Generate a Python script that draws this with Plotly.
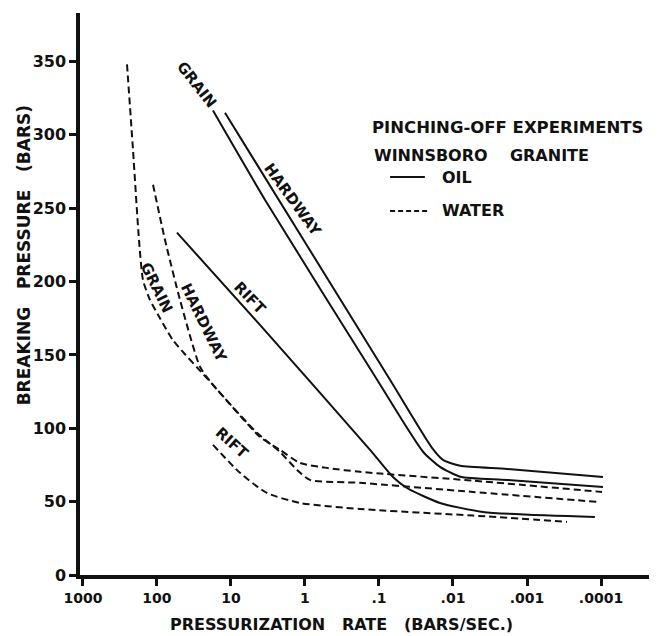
import plotly.graph_objects as go

# ---- data ----
# OIL (solid)
oil_grain_x = [17.5, 3.48, 0.106, 0.0254, 0.015, 0.008, 0.00186, 0.000094]
oil_grain_y = [316.5, 255.8, 133, 84, 73.7, 67, 64.8, 60]

oil_hardway_x = [12.05, 0.071, 0.0192, 0.01365, 0.008, 0.00186, 0.000094]
oil_hardway_y = [315, 133, 86.6, 78.4, 74.4, 72.3, 66.8]

oil_rift_x = [53.7, 4.06, 0.132, 0.0647, 0.0419, 0.015, 0.00394, 0.000121]
oil_rift_y = [233.3, 170.5, 85.3, 66.8, 59.3, 49.1, 43, 39.6]

# WATER (dashed)
water_grain_x = [254, 211, 175, 154.5, 124.5, 91, 60.8, 17.5, 4.06, 2.18, 1.17, 0.505, 0.181, 0.00537, 0.0000968]
water_grain_y = [348, 290, 228.5, 201, 187.6, 175, 160, 129.6, 94.1, 85.3, 76.4, 73, 70.3, 64.3, 56.6]

water_hardway_x = [113, 78, 48.9, 26.2, 17.5, 4.46, 2.18, 1.28, 0.855, 0.181, 0.00537, 0.00011]
water_hardway_y = [266, 228.5, 187.6, 141.9, 129.6, 96.9, 83.9, 71.6, 64.8, 62.8, 56.6, 49.8]

water_rift_x = [17.5, 7.55, 3.27, 1.17, 0.181, 0.00537, 0.000288]
water_rift_y = [88.7, 69.6, 55.9, 49.1, 45, 40.5, 36.2]

x_tick_vals = [1000, 100, 10, 1, 0.1, 0.01, 0.001, 0.0001]
x_tick_text = ["1000", "100", "10", "1", ".1", ".01", ".001", ".0001"]
y_tick_vals = [0, 50, 100, 150, 200, 250, 300, 350]
y_tick_text = ["0", "50", "100", "150", "200", "250", "300", "350"]

FONT = "DejaVu Sans"
INK = "#111111"
SP3 = "\u00a0\u00a0\u00a0"

fig = go.Figure()

series = [
    (oil_grain_x, oil_grain_y, "solid"),
    (oil_hardway_x, oil_hardway_y, "solid"),
    (oil_rift_x, oil_rift_y, "solid"),
    (water_grain_x, water_grain_y, "7px,4px"),
    (water_hardway_x, water_hardway_y, "7px,4px"),
    (water_rift_x, water_rift_y, "7px,4px"),
]
for xs, ys, dash in series:
    fig.add_trace(go.Scatter(
        x=xs, y=ys, mode="lines",
        line=dict(color=INK, width=2, dash=dash, shape="spline", smoothing=0.6),
        showlegend=False, hoverinfo="skip",
    ))

def lab(text, x, y, angle, size=15):
    fig.add_annotation(
        text="<b>%s</b>" % text, x=x, y=y, xref="x", yref="y",
        xanchor="center", yanchor="middle",
        textangle=angle, showarrow=False,
        font=dict(family=FONT, size=size, color=INK),
    )

# curve labels (log10 x positions)
lab("GRAIN", 1.459, 334.2, 52)
lab("HARDWAY", 0.162, 255.8, 54)
lab("RIFT", 0.743, 189, 46)
lab("GRAIN", 2.0, 195.8, 64)
lab("HARDWAY", 1.365, 171.9, 64)
lab("RIFT", 0.986, 90, 42)

def note(text, x, y, size=16, anchor="left"):
    fig.add_annotation(
        text="<b>%s</b>" % text, x=x, y=y, xref="paper", yref="paper",
        xanchor=anchor, yanchor="middle", showarrow=False,
        font=dict(family=FONT, size=size, color=INK),
    )

note("PINCHING-OFF EXPERIMENTS", 0.508, 0.797, size=16.5)
note("WINNSBORO\u00a0\u00a0\u00a0\u00a0GRANITE", 0.513, 0.7456, size=16)
note("OIL", 0.631, 0.708)
note("WATER", 0.631, 0.6477)

# legend key lines
fig.add_shape(type="line", xref="paper", yref="paper", x0=0.544, x1=0.605, y0=0.708, y1=0.708,
              line=dict(color=INK, width=2))
fig.add_shape(type="line", xref="paper", yref="paper", x0=0.544, x1=0.609, y0=0.6477, y1=0.6477,
              line=dict(color=INK, width=2, dash="5px,3px"))

# axis titles
fig.add_annotation(text="<b>BREAKING" + SP3 + "PRESSURE" + SP3 + "(BARS)</b>", xref="paper", yref="paper",
                   x=-0.098, y=0.569, xanchor="center", yanchor="middle",
                   textangle=-90, showarrow=False,
                   font=dict(family=FONT, size=17, color=INK))
fig.add_annotation(text="<b>PRESSURIZATION" + SP3 + "RATE" + SP3 + "(BARS/SEC.)</b>", xref="paper", yref="paper",
                   x=0.458, y=-0.0872, xanchor="center", yanchor="middle", showarrow=False,
                   font=dict(family=FONT, size=16, color=INK))

fig.update_xaxes(
    type="log", range=[3.04, -4.662], tickvals=x_tick_vals, ticktext=x_tick_text,
    showline=True, linewidth=3.5, linecolor=INK, showgrid=False, zeroline=False,
    ticks="outside", ticklen=7, tickwidth=3, tickcolor=INK,
    tickfont=dict(family=FONT, size=14, color=INK, weight="bold"),
)
fig.update_yaxes(
    range=[0, 383], tickvals=y_tick_vals, ticktext=y_tick_text,
    showline=True, linewidth=3.5, linecolor=INK, showgrid=False, zeroline=False,
    ticks="outside", ticklen=7, tickwidth=3, tickcolor=INK,
    tickfont=dict(family=FONT, size=16, color=INK, weight="bold"),
)

# page body has an 8px margin, so the figure is sized/offset to land the plot area
# at the same page position as the reference
fig.update_layout(
    width=649, height=628,
    margin=dict(l=72, r=7, t=5, b=61),
    paper_bgcolor="white", plot_bgcolor="white",
    showlegend=False,
)

fig.write_html("out.html")
